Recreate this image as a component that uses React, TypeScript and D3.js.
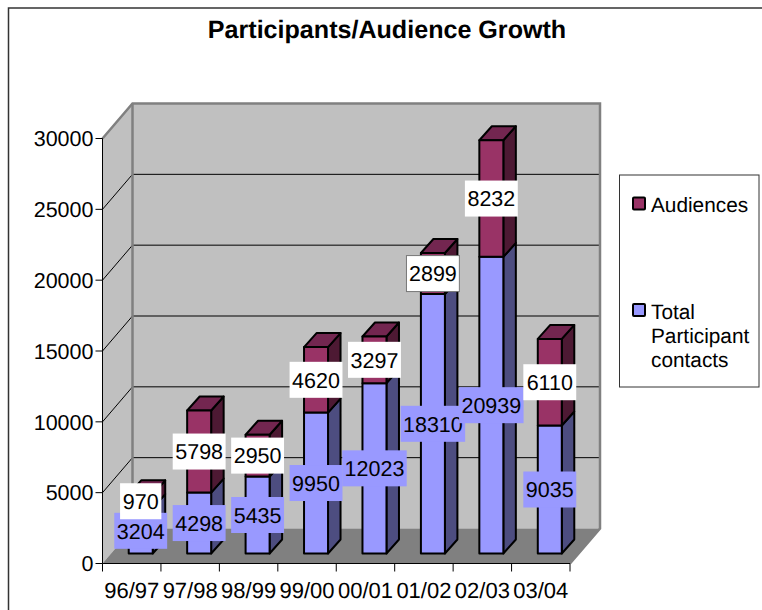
import React from 'react';
import * as d3 from 'd3';

const years = ['96/97', '97/98', '98/99', '99/00', '00/01', '01/02', '02/03', '03/04'];
const participants = [3204, 4298, 5435, 9950, 12023, 18310, 20939, 9035];
const audiences = [970, 5798, 2950, 4620, 3297, 2899, 8232, 6110];
const ticks = [0, 5000, 10000, 15000, 20000, 25000, 30000];

const width = 762;
const height = 610;
const font = '"Liberation Sans", Arial, sans-serif';

// fake 3d: walls are pushed back by depthX/depthY, bars stand a bit inside the floor
const depthX = 30;
const depthY = 35;
const barDepthX = 12.5;
const barDepthY = 14;
const barWidth = 24;

const x = d3.scaleBand().domain(years).range([102.5, 570]);
const y = d3.scaleLinear().domain([0, 30000]).range([563.5, 138.5]);

// the bars' feet sit about 10px above the front floor edge
const barBase = 10;

const poly = (pts: [number, number][]) => d3.line()(pts) + 'Z';

function Bar3D({ cx, bottom, top, front, side, roof }: { cx: number; bottom: number; top: number; front: string; side: string; roof?: string }) {
  const l = cx - barWidth / 2;
  const r = cx + barWidth / 2;
  const stroke = { stroke: '#000', strokeWidth: 2, strokeLinejoin: 'round' as const };
  return (
    <g>
      <path d={poly([[r, bottom], [r + barDepthX, bottom - barDepthY], [r + barDepthX, top - barDepthY], [r, top]])} fill={side} {...stroke} />
      {roof && <path d={poly([[l, top], [l + barDepthX, top - barDepthY], [r + barDepthX, top - barDepthY], [r, top]])} fill={roof} {...stroke} />}
      <rect x={l} y={top} width={barWidth} height={bottom - top} fill={front} {...stroke} />
    </g>
  );
}

function Label({ cx, cy, text, fill, outline }: { cx: number; cy: number; text: string; fill: string; outline?: boolean }) {
  const w = text.length * 11.6 + 6.5;
  return (
    <g>
      <rect x={cx - w / 2} y={cy - 18} width={w} height={36} fill={fill} stroke={outline ? '#777' : 'none'} strokeWidth={1} />
      <text x={cx} y={cy + 7.7} textAnchor="middle" fontSize={21.5} fill="#000" fontFamily={font}>{text}</text>
    </g>
  );
}

export default function App() {
  const x0 = x.range()[0];
  const x1 = x.range()[1];
  const y0 = y(0);
  const yTop = y(30000);
  const centers = years.map(d => (x(d) as number) + x.bandwidth() / 2 + 9);

  return (
    <svg width={width} height={height} textRendering="geometricPrecision" style={{ position: 'absolute', left: 0, top: 0, background: '#fff' }}>
      <path d="M8.5 610V8H762" fill="none" stroke="#333" strokeWidth={1.5} />
      <text x={387} y={38} textAnchor="middle" fontSize={25.1} fontWeight="bold" fontFamily={font}>Participants/Audience Growth</text>

      {/* walls and floor */}
      <path d={poly([[x0, yTop], [x0 + depthX, yTop - depthY], [x0 + depthX, y0 - depthY], [x0, y0]])} fill="#c0c0c0" />
      <rect x={x0 + depthX} y={yTop - depthY} width={x1 - x0} height={y0 - yTop} fill="#c0c0c0" />
      <path d={poly([[x0, y0], [x0 + depthX, y0 - depthY], [x1 + depthX, y0 - depthY], [x1, y0]])} fill="#808080" />

      {ticks.slice(1).map(t => (
        <path key={t} d={`M${x0} ${y(t)}L${x0 + depthX} ${y(t) - depthY}H${x1 + depthX}`} fill="none" stroke="#000" strokeWidth={1} />
      ))}
      <path d={`M${x0} ${yTop}L${x0 + depthX} ${yTop - depthY}H${x1 + depthX}V${y0 - depthY}L${x1} ${y0}`} fill="none" stroke="#808080" strokeWidth={2.5} />
      <path d={`M${x0 + depthX} ${yTop - depthY}V${y0 - depthY}`} fill="none" stroke="#808080" strokeWidth={2.5} />

      {/* bars */}
      {years.map((d, i) => {
        const mid = y(participants[i]) - barBase;
        const top = y(participants[i] + audiences[i]) - barBase;
        return (
          <g key={d}>
            <Bar3D cx={centers[i]} bottom={y0 - barBase} top={mid} front="#9999ff" side="#4d4d80" />
            <Bar3D cx={centers[i]} bottom={mid} top={top} front="#993366" side="#4d1933" roof="#732650" />
          </g>
        );
      })}

      {/* axes */}
      <path d={`M${x0} ${yTop}V${y0}H${x1}`} fill="none" stroke="#000" strokeWidth={1} />
      {ticks.map(t => (
        <g key={t}>
          <line x1={x0 - 7} x2={x0} y1={y(t)} y2={y(t)} stroke="#000" />
          <text x={x0 - 9} y={y(t) + 7.7} textAnchor="end" fontSize={21.5} fontFamily={font}>{t}</text>
        </g>
      ))}
      {[...years.map(d => x(d) as number), x1].map(v => (
        <line key={v} x1={v} x2={v} y1={y0} y2={y0 + 8} stroke="#000" />
      ))}
      {years.map(d => (
        <text key={d} x={(x(d) as number) + x.bandwidth() / 2} y={598} textAnchor="middle" fontSize={22} fontFamily={font}>{d}</text>
      ))}

      {/* labels on top of everything */}
      {years.map((d, i) => {
        const mid = y(participants[i]) - barBase;
        const top = y(participants[i] + audiences[i]) - barBase;
        return (
          <g key={d}>
            <Label cx={centers[i]} cy={(y0 - barBase + mid) / 2} text={String(participants[i])} fill="#9999ff" />
            <Label cx={centers[i]} cy={(mid + top) / 2} text={String(audiences[i])} fill="#fff" outline={i === 5} />
          </g>
        );
      })}

      {/* legend */}
      <rect x={619.5} y={175} width={139.5} height={212} fill="#fff" stroke="#333" strokeWidth={1} />
      <rect x={633} y={197.5} width={12} height={12} rx={1} fill="#993366" stroke="#000" strokeWidth={2} />
      <rect x={633} y={304} width={12} height={12} rx={1} fill="#9999ff" stroke="#000" strokeWidth={2} />
      <g fontSize={20.8} fontFamily={font}>
        <text x={651} y={212}>Audiences</text>
        <text x={651} y={319}>Total</text>
        <text x={651} y={343}>Participant</text>
        <text x={651} y={367}>contacts</text>
      </g>
    </svg>
  );
}
